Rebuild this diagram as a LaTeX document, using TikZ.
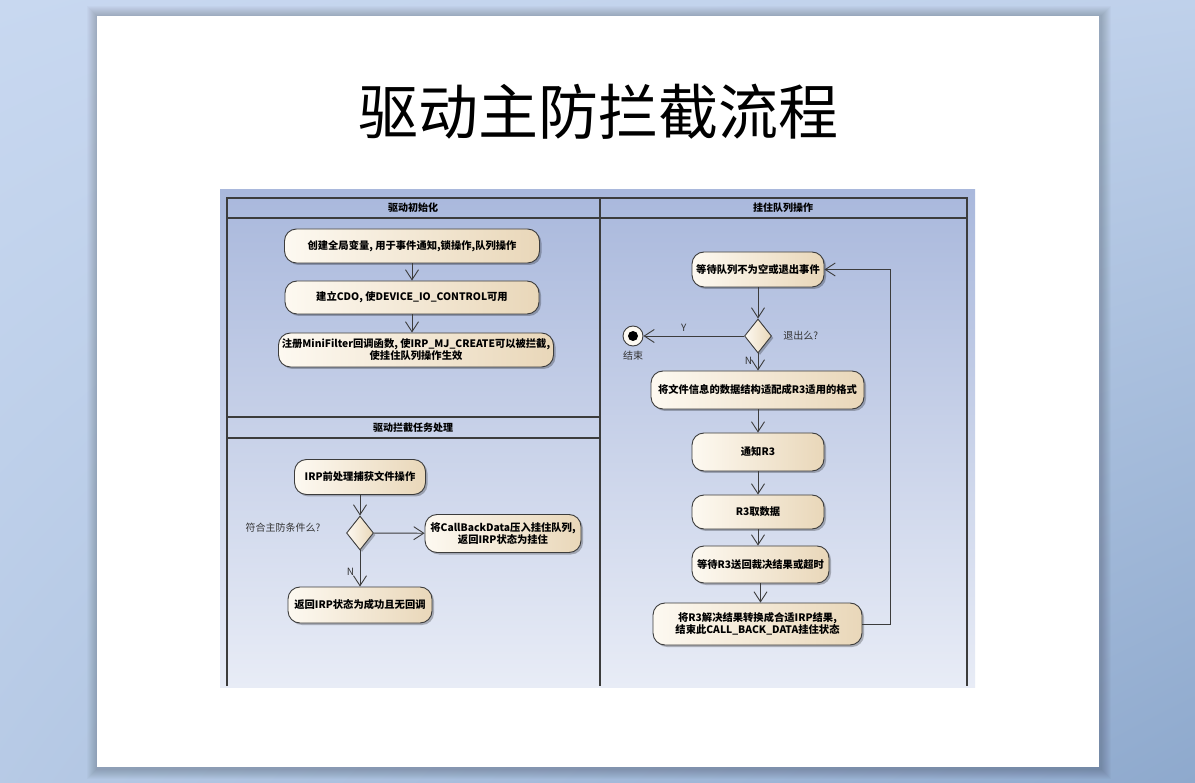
\documentclass[tikz,border=0pt]{standalone}
\usepackage{fontspec}
\setmainfont{Noto Sans CJK SC}
\usetikzlibrary{shapes.geometric,arrows.meta,positioning,shadows,shadings}
\definecolor{lineacarril}{HTML}{3C3C3C}
\definecolor{cajaizq}{HTML}{FDF9F1}
\definecolor{cajader}{HTML}{E9D7B9}
\definecolor{fondoarriba}{HTML}{A9B8DC}
\definecolor{fondoabajo}{HTML}{E8ECF6}
\definecolor{azulclaro}{HTML}{C8D8F0}
\definecolor{azuloscuro}{HTML}{8EA9CD}
\tikzstyle{actividad} = [draw=lineacarril, line width=0.9pt, rectangle, rounded corners=12pt, left color=cajaizq, right color=cajader, drop shadow={shadow xshift=2pt, shadow yshift=-2pt, fill=black, opacity=0.25}, font=\bfseries\fontsize{10.3}{12}\selectfont, align=center, inner sep=2pt]
\tikzstyle{decision} = [diamond, draw=lineacarril, line width=0.9pt, left color=cajaizq, right color=cajader, drop shadow={shadow xshift=2pt, shadow yshift=-2pt, fill=black, opacity=0.25}, minimum width=27pt, minimum height=34pt, inner sep=0pt]
\tikzstyle{flujo} = [draw=lineacarril, line width=0.9pt, -{Straight Barb[length=10pt, width=13pt]}]
\tikzstyle{carril} = [draw=lineacarril, line width=1.3pt]
\tikzstyle{titulocarril} = [font=\bfseries\fontsize{10}{12}\selectfont]
\tikzstyle{etiqueta} = [font=\fontsize{10}{12}\selectfont, text=black!80]
\begin{document}
\begin{tikzpicture}[x=1pt, y=-1pt]
\useasboundingbox (0,0) rectangle (1195,783);
% slide
\shade[upper left=azulclaro, upper right=azulclaro!85!azuloscuro, lower left=azulclaro!70!azuloscuro, lower right=azuloscuro] (0,0) rectangle (1195,783);
\foreach \d in {1,...,10}
  \fill[black, opacity=0.018] (97-\d,16-\d) rectangle (1099+\d+2,767+\d+2);
\fill[white] (97,16) rectangle (1099,767);
\node[font=\fontsize{60}{64}\selectfont] (titulo) at (598,112) {驱动主防拦截流程};
% swimlanes
\shade[top color=fondoarriba, bottom color=fondoabajo] (220,190) rectangle (975,687);
\draw[carril] (227,686) -- (227,198) -- (967,198) -- (967,686);
\draw[carril] (600,198) -- (600,686);
\draw[carril] (227,218) -- (967,218);
\draw[carril] (227,417) -- (600,417);
\draw[carril] (227,438) -- (600,438);
\node[titulocarril] (carrilinit) at (413,208) {驱动初始化};
\node[titulocarril] (carrilcola) at (783,208) {挂住队列操作};
\node[titulocarril] (carriltarea) at (413,428) {驱动拦截任务处理};
% init
\node[actividad, minimum width=255pt, minimum height=34pt] (crear) at (412,246) {创建全局变量, 用于事件通知,锁操作,队列操作};
\node[actividad, minimum width=254pt, minimum height=33pt] (cdo) at (412,297.5) {建立CDO, 使DEVICE\_IO\_CONTROL可用};
\node[actividad, minimum width=275pt, minimum height=34pt] (registro) at (416,350) {注册MiniFilter回调函数, 使IRP\_MJ\_CREATE可以被拦截,\\使挂住队列操作生效};
\draw[flujo] (crear) -- (crear |- cdo.north);
\draw[flujo] (cdo.south) -- (cdo.south |- registro.north);
% tarea
\node[actividad, minimum width=131pt, minimum height=35pt] (irp) at (360,477) {IRP前处理捕获文件操作};
\node[decision] (cond) at (360,533) {};
\node[etiqueta] (condtexto) at (283,528) {符合主防条件么?};
\node[actividad, minimum width=156pt, minimum height=38pt] (pendiente) at (503,533.5) {将CallBackData压入挂住队列,\\返回IRP状态为挂住};
\node[actividad, minimum width=144pt, minimum height=36pt] (retorno) at (360,605) {返回IRP状态为成功且无回调};
\draw[flujo] (irp) -- (cond);
\draw[flujo] (cond) -- (pendiente);
\draw[flujo] (cond) -- node[etiqueta, pos=0.6, left=2pt] {N} (retorno);
% cola
\node[actividad, minimum width=132pt, minimum height=35pt] (espera) at (758,269.5) {等待队列不为空或退出事件};
\node[decision] (salir) at (758,336) {};
\node[etiqueta, right=8pt of salir.east, anchor=west] (salirtexto) {退出么?};
\node[circle, draw=lineacarril, line width=0.9pt, fill=cajaizq, minimum size=20pt, inner sep=0pt] (fin) at (633,336) {};
\fill[black] (fin.center) circle (5pt);
\node[etiqueta, below=1pt of fin] (fintexto) {结束};
\node[actividad, minimum width=213pt, minimum height=38pt] (adaptar) at (757.5,390) {将文件信息的数据结构适配成R3适用的格式};
\node[actividad, minimum width=132pt, minimum height=38pt] (notificar) at (758,452) {通知R3};
\node[actividad, minimum width=132pt, minimum height=34pt] (obtener) at (758,512) {R3取数据};
\node[actividad, minimum width=137pt, minimum height=37pt] (esperar) at (760.5,564.5) {等待R3送回裁决结果或超时};
\node[actividad, minimum width=209pt, minimum height=42pt] (convertir) at (757.5,624) {将R3解决结果转换成合适IRP结果,\\结束此CALL\_BACK\_DATA挂住状态};
\draw[flujo] (espera) -- (salir);
\draw[flujo] (salir) -- node[etiqueta, pos=0.6, above=1pt] {Y} (fin);
\draw[flujo] (salir) -- node[etiqueta, pos=0.45, left=2pt] {N} (salir |- adaptar.north);
\draw[flujo] (adaptar.south -| salir) -- (salir |- notificar.north);
\draw[flujo] (notificar) -- (obtener);
\draw[flujo] (obtener.south) -- (obtener.south |- esperar.north);
\draw[flujo] (esperar.south) -- (esperar.south |- convertir.north);
\draw[flujo] (convertir.east) -- ++(28,0) |- (espera.east);
\end{tikzpicture}
\end{document}
